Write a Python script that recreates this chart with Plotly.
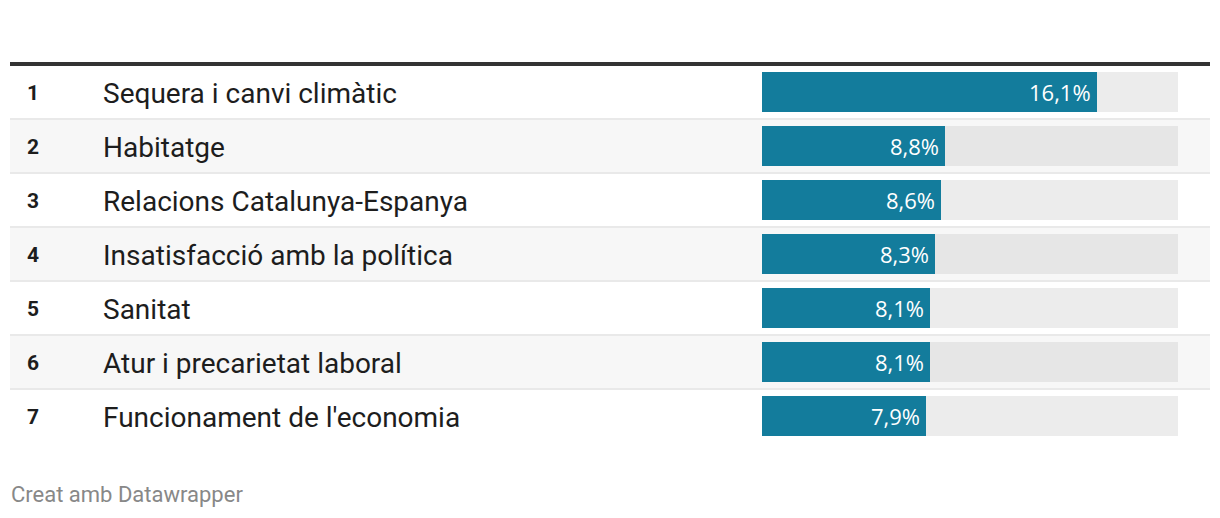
import plotly.graph_objects as go

# ---- data ----
ranks = [1, 2, 3, 4, 5, 6, 7]
categories = [
    "Sequera i canvi climàtic",
    "Habitatge",
    "Relacions Catalunya-Espanya",
    "Insatisfacció amb la política",
    "Sanitat",
    "Atur i precarietat laboral",
    "Funcionament de l'economia",
]
values = [16.1, 8.8, 8.6, 8.3, 8.1, 8.1, 7.9]
scale_max = 20
footer = "Creat amb Datawrapper"

# ---- layout constants (page pixels; the page body has an 8px margin) ----
OFF = 8
W, H = 1220 - 2 * OFF, 518 - 2 * OFF
TOP, ROW = 65, 54
n = len(categories)
BOTTOM = TOP + ROW * n
BAR_X0, BAR_X1 = 762, 1178
LEFT, RIGHT = 10, 1210

def px(x):
    return (x - OFF) / W

def py(y):
    return 1 - (y - OFF) / H

ypos = list(range(n))
row_bg = ["#ffffff" if i % 2 == 0 else "#f7f7f7" for i in range(n)]
track_col = ["#ececec" if i % 2 == 0 else "#e6e6e6" for i in range(n)]
labels = [f"{v:.1f}".replace(".", ",") + "%" for v in values]

fig = go.Figure()

# background track
fig.add_trace(go.Bar(
    x=[scale_max] * n, y=ypos, orientation="h",
    marker=dict(color=track_col, line=dict(width=0)),
    width=40 / ROW, hoverinfo="skip", showlegend=False,
))
# value bars
fig.add_trace(go.Bar(
    x=values, y=ypos, orientation="h",
    marker=dict(color="#137c9c", line=dict(width=0)),
    width=40 / ROW, hoverinfo="skip", showlegend=False,
))

shapes = []
# row backgrounds
for i in range(n):
    shapes.append(dict(type="rect", xref="paper", yref="y",
                       x0=px(LEFT), x1=px(RIGHT), y0=i - 0.5, y1=i + 0.5,
                       fillcolor=row_bg[i], line=dict(width=0), layer="below"))
# separators
for i in range(n - 1):
    shapes.append(dict(type="line", xref="paper", yref="y",
                       x0=px(LEFT), x1=px(RIGHT), y0=i + 0.5, y1=i + 0.5,
                       line=dict(color="#e9e9e9", width=2), layer="above"))
# top border
shapes.append(dict(type="rect", xref="paper", yref="paper",
                   x0=px(LEFT), x1=px(RIGHT), y0=py(66), y1=py(62),
                   fillcolor="#333333", line=dict(width=0)))

annotations = []
for i in range(n):
    annotations.append(dict(xref="paper", yref="y", x=px(25), y=i,
                            text=f"<b>{ranks[i]}</b>", showarrow=False,
                            xanchor="left", yanchor="middle", yshift=-1,
                            font=dict(family="Roboto", size=21, color="#1d1d1d")))
    annotations.append(dict(xref="paper", yref="y", x=px(101), y=i,
                            text=categories[i], showarrow=False,
                            xanchor="left", yanchor="middle", yshift=-1,
                            font=dict(family="Roboto", size=28, color="#1d1d1d")))
    annotations.append(dict(xref="x", yref="y", x=values[i], y=i,
                            text=labels[i], showarrow=False,
                            xanchor="right", yanchor="middle", xshift=-4,
                            font=dict(family="Open Sans", size=22, color="#ffffff")))
annotations.append(dict(xref="paper", yref="paper", x=px(9), y=py(494),
                        text=footer, showarrow=False, xanchor="left",
                        yanchor="middle",
                        font=dict(family="Roboto", size=22, color="#888888")))

fig.update_layout(
    width=W, height=H, margin=dict(l=0, r=0, t=0, b=0),
    paper_bgcolor="#ffffff", plot_bgcolor="rgba(0,0,0,0)",
    barmode="overlay", bargap=0,
    xaxis=dict(domain=[px(BAR_X0), px(BAR_X1)], range=[0, scale_max],
               visible=False, fixedrange=True),
    yaxis=dict(domain=[py(BOTTOM), py(TOP)], range=[n - 0.5, -0.5],
               visible=False, fixedrange=True),
    shapes=shapes, annotations=annotations,
    font=dict(family="Roboto"),
)

fig.write_html("out.html", config={"displayModeBar": False})
